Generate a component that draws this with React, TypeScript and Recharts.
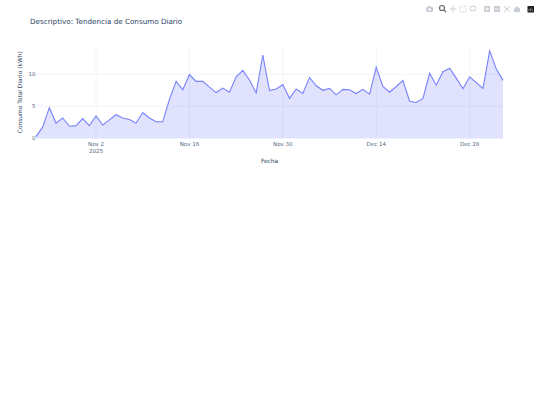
import React from "react";
import { AreaChart, Area, XAxis, YAxis, CartesianGrid } from "recharts";

const startDay = Date.UTC(2025, 9, 24);
const dayMs = 86400000;
const consumo = [
  0.3, 1.8, 4.8, 2.4, 3.2, 1.9, 2.0, 3.1, 2.0, 3.5, 2.1, 2.9, 3.7, 3.2, 2.95, 2.4, 4.05, 3.2, 2.6, 2.6, 6.1,
  8.9, 7.6, 9.95, 8.9, 8.9, 8.0, 7.15, 7.85, 7.2, 9.6, 10.6, 9.1, 7.1, 13.0, 7.45, 7.7, 8.4, 6.25, 7.7, 7.0,
  9.5, 8.2, 7.5, 7.8, 6.8, 7.65, 7.6, 7.0, 7.65, 6.9, 11.1, 8.1, 7.2, 8.1, 9.05, 5.8, 5.6, 6.25, 10.15, 8.3,
  10.4, 10.95, 9.4, 7.75, 9.6, 8.7, 7.8, 13.65, 10.8, 9.05,
];
const xTicks = [Date.UTC(2025, 10, 2), Date.UTC(2025, 10, 16), Date.UTC(2025, 10, 30), Date.UTC(2025, 11, 14), Date.UTC(2025, 11, 28)];
const xTickLabels = ["Nov 2", "Nov 16", "Nov 30", "Dec 14", "Dec 28"];
const yTicks = [0, 5, 10];
const rows = consumo.map((v, i) => ({ t: startDay + i * dayMs, v }));

const FONT = '"DejaVu Sans", Verdana, sans-serif';
const INK = "#2a3f5f";
const TICK = "#506784";

function XTick({ x, y, payload }: any) {
  const i = xTicks.indexOf(payload.value);
  return (
    <text x={x} y={y} textAnchor="middle" fontFamily={FONT} fontSize={5.5} fill={TICK}>
      <tspan x={x} dy={5}>{xTickLabels[i]}</tspan>
      {i === 0 ? <tspan x={x} dy={7.300}>2025</tspan> : null}
    </text>
  );
}

function Modebar() {
  const c = "#c9ced6";
  return (
    <svg width={540} height={20} style={{ position: "absolute", left: 0, top: 0 }}>
      <g fill={c}>
        <rect x={426} y={7} width={7} height={5} rx={1} />
        <rect x={428} y={6} width={3} height={1.5} />
        <circle cx={429.500} cy={9.500} r={1.300} fill="#fff" />
      </g>
      <g stroke="#666c75" fill="none" strokeWidth={1.200}>
        <circle cx={442} cy={8} r={2.500} />
        <path d="M444 10 L446 12" />
      </g>
      <path d="M449.500 9 H456.500 M453 5.500 V12.500" stroke={c} strokeWidth={1} />
      <rect x={460} y={6} width={6} height={6} fill="none" stroke={c} strokeDasharray="1 1" />
      <ellipse cx={473} cy={8.500} rx={3} ry={2.500} fill="none" stroke={c} />
      <rect x={484} y={6} width={6} height={6} fill={c} />
      <path d="M485 9 H489 M487 7 V11" stroke="#fff" strokeWidth={0.8} />
      <rect x={494} y={6} width={6} height={6} fill={c} />
      <path d="M495 9 H499" stroke="#fff" strokeWidth={0.8} />
      <path d="M504 6 L510 12 M510 6 L504 12" stroke={c} strokeWidth={1} />
      <path d="M514 9 L517 6 L520 9 V12 H514 Z" fill={c} />
      <rect x={527.500} y={6} width={6.500} height={6.500} fill="#222" />
      <path d="M529 11 V9 M530.700 11 V8 M532.400 11 V9.500" stroke="#ccc" strokeWidth={0.6} />
    </svg>
  );
}

export default function App() {
  return (
    <div style={{ position: "absolute", left: 0, top: 0, width: 540, height: 405, background: "#fff" }}>
      <AreaChart
        width={540}
        height={405}
        data={rows}
        margin={{ top: 46, right: 37, bottom: 0, left: 0 }}
      >
        <CartesianGrid stroke="#ebf0f8" strokeWidth={0.6} horizontalValues={[5, 10]} verticalValues={xTicks} />
        <XAxis
          dataKey="t"
          type="number"
          scale="time"
          domain={[rows[0].t, rows[rows.length - 1].t]}
          ticks={xTicks}
          tick={<XTick />}
          tickLine={false}
          tickSize={0}
          axisLine={false}
          height={266.5}
          interval={0}
          label={{ value: "Fecha", position: "insideTop", dy: 15.5, fontFamily: FONT, fontSize: 5.8, fill: INK }}
        />
        <YAxis
          type="number"
          domain={[0, 14.4]}
          ticks={yTicks}
          width={36}
          tickLine={false}
          tickSize={0}
          axisLine={false}
          tickMargin={0.5}
          tick={{ fontFamily: FONT, fontSize: 5.5, fill: TICK }}
          label={{ value: "Consumo Total Diario (kWh)", angle: -90, position: "center", dx: 2, fontFamily: FONT, fontSize: 5.9, fill: INK }}
        />
        <Area
          type="linear"
          dataKey="v"
          stroke="#636efa"
          strokeWidth={1.1}
          strokeOpacity={0.85}
          fill="#636efa"
          fillOpacity={0.2}
          dot={false}
          activeDot={false}
          isAnimationActive={false}
        />
      </AreaChart>
      <div style={{ position: "absolute", left: 30, top: 17, fontFamily: FONT, fontSize: 7.2, color: INK, whiteSpace: "nowrap", lineHeight: "10px" }}>
        Descriptivo: Tendencia de Consumo Diario
      </div>
      <Modebar />
    </div>
  );
}
